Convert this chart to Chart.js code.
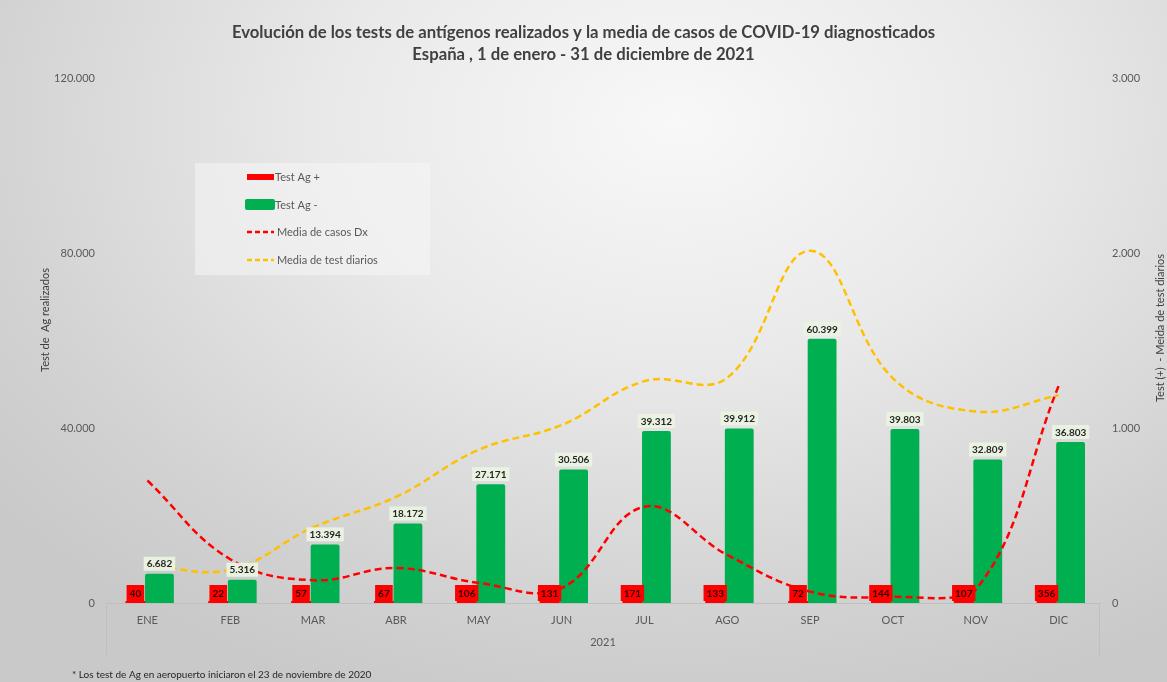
<!DOCTYPE html>
<html>
<head>
<meta charset="utf-8">
<script src="https://cdn.jsdelivr.net/npm/chart.js@4"></script>
<style>
  html, body { margin: 0; padding: 0; }
  #wrap {
    width: 1167px; height: 682px; position: relative;
    background: radial-gradient(ellipse 75% 90% at 58% 18%, #f8f8f8 0%, #e9e9e9 40%, #d2d2d2 80%, #c9c9c9 100%);
  }
</style>
</head>
<body>
<div id="wrap"><canvas id="agChart"></canvas></div>
<script>
const months = ['ENE', 'FEB', 'MAR', 'ABR', 'MAY', 'JUN', 'JUL', 'AGO', 'SEP', 'OCT', 'NOV', 'DIC'];
const yearLabel = ['2021'];
const testPos = [40, 22, 57, 67, 106, 131, 171, 133, 72, 144, 107, 356];
const testNeg = [6682, 5316, 13394, 18172, 27171, 30506, 39312, 39912, 60399, 39803, 32809, 36803];
const mediaCasos = [700, 250, 130, 200, 115, 85, 550, 275, 65, 35, 75, 1240];
const mediaTest = [215, 190, 432, 606, 876, 1017, 1268, 1287, 2013, 1284, 1094, 1187];

const fontFam = 'Lato, "Open Sans", sans-serif';
Chart.defaults.font.family = fontFam;
Chart.defaults.color = '#595959';

// 40000 -> 40.000
const fmt = v => String(v).replace(/\B(?=(\d{3})+(?!\d))/g, '.');

const extras = {
  id: 'extras',
  afterDatasetsDraw(chart) {
    const c = chart.ctx;
    const pos = chart.getDatasetMeta(2), neg = chart.getDatasetMeta(3);
    const base = chart.scales.y.getPixelForValue(0);
    c.save();
    c.font = 'bold 10px ' + fontFam;
    c.textAlign = 'center';
    c.textBaseline = 'middle';
    neg.data.forEach((bar, i) => {
      const t = fmt(testNeg[i]);
      const w = c.measureText(t).width + 6;
      const cy = bar.y - 10;
      c.fillStyle = 'rgba(234,243,225,0.95)';
      c.fillRect(bar.x - w / 2, cy - 7, w, 14);
      c.fillStyle = '#262626';
      c.fillText(t, bar.x, cy + 0.5);
    });
    pos.data.forEach((bar, i) => {
      const t = String(testPos[i]);
      const w = c.measureText(t).width + 6;
      const cy = base - 10;
      c.fillStyle = '#ff0000';
      c.fillRect(bar.x - w / 2, cy - 8, w, 16);
      c.fillStyle = '#2a0000';
      c.fillText(t, bar.x, cy + 0.5);
    });
    c.restore();
  },
  afterDraw(chart) {
    const c = chart.ctx;
    const a = chart.chartArea;
    c.save();
    // category axis bracket
    c.strokeStyle = '#bfbfbf';
    c.lineWidth = 1;
    c.beginPath();
    c.moveTo(a.left + 0.5, a.bottom); c.lineTo(a.left + 0.5, a.bottom + 52);
    c.moveTo(a.right - 0.5, a.bottom); c.lineTo(a.right - 0.5, a.bottom + 52);
    c.stroke();

    // axis titles
    c.fillStyle = '#404040';
    c.font = '11px ' + fontFam;
    c.textAlign = 'center';
    c.textBaseline = 'middle';
    c.save();
    c.translate(45, 320); c.rotate(-Math.PI / 2);
    c.fillText('Test de  Ag realizados', 0, 0);
    c.restore();
    c.save();
    c.translate(1160, 328); c.rotate(-Math.PI / 2);
    c.fillText('Test (+)  - Meida de test diarios', 0, 0);
    c.restore();

    // legend
    c.fillStyle = 'rgba(245,245,245,0.55)';
    c.fillRect(195, 163, 235, 112);
    const ds = chart.data.datasets;
    c.fillStyle = '#ff0000';
    c.fillRect(247, 174, 27, 6);
    c.fillStyle = '#00b050';
    c.beginPath(); c.roundRect(245, 199, 30, 11, 2); c.fill();
    c.lineWidth = 2.5;
    c.setLineDash([5, 3]);
    c.strokeStyle = '#ff0000';
    c.beginPath(); c.moveTo(247, 232); c.lineTo(274, 232); c.stroke();
    c.strokeStyle = '#ffc000';
    c.beginPath(); c.moveTo(247, 260); c.lineTo(274, 260); c.stroke();
    c.setLineDash([]);
    c.fillStyle = '#595959';
    c.font = '11px ' + fontFam;
    c.textAlign = 'left';
    c.fillText(ds[2].label, 275, 177);
    c.fillText(ds[3].label, 275, 205);
    c.fillText(ds[0].label, 277, 232);
    c.fillText(ds[1].label, 277, 260);

    // footnote
    c.fillStyle = '#262626';
    c.font = '10px ' + fontFam;
    c.fillText('* Los test de Ag en aeropuerto iniciaron el 23 de noviembre de 2020', 72, 675);
    c.restore();
  }
};

new Chart(document.getElementById('agChart'), {
  type: 'bar',
  data: {
    labels: months,
    datasets: [
      {
        type: 'line', label: 'Media de casos Dx', data: mediaCasos, yAxisID: 'y1',
        borderColor: '#ff0000', borderWidth: 2.5, borderDash: [7, 4], tension: 0.4,
        pointRadius: 0, fill: false, order: 0
      },
      {
        type: 'line', label: 'Media de test diarios', data: mediaTest, yAxisID: 'y1',
        borderColor: '#ffc000', borderWidth: 2.5, borderDash: [7, 4], tension: 0.4,
        pointRadius: 0, fill: false, order: 0
      },
      {
        label: 'Test Ag +', data: testPos, yAxisID: 'y', backgroundColor: '#ff0000',
        minBarLength: 2, barPercentage: 0.83, order: 1
      },
      {
        label: 'Test Ag -', data: testNeg, yAxisID: 'y', backgroundColor: '#00b050',
        barPercentage: 1.2, borderRadius: { topLeft: 2, topRight: 2 }, order: 1
      }
    ]
  },
  options: {
    responsive: true,
    maintainAspectRatio: false,
    animation: false,
    datasets: { bar: { categoryPercentage: 0.58 } },
    layout: { padding: { left: 0, right: 0, top: 0, bottom: 27 } },
    plugins: {
      legend: { display: false },
      tooltip: { enabled: false },
      title: {
        display: true,
        text: ['Evolución de los tests de antígenos realizados y la media de casos de COVID-19 diagnosticados',
               'España , 1 de enero - 31 de diciembre de 2021'],
        color: '#404040',
        font: { size: 16.7, weight: 'bold', lineHeight: 1.32 },
        padding: { top: 22, bottom: 12 }
      }
    },
    scales: {
      x: {
        weight: 0,
        grid: { display: false, drawTicks: false },
        border: { display: true, color: '#bfbfbf' },
        ticks: { color: '#595959', font: { size: 11 }, padding: 11 },
        afterFit: s => { s.height = 30; }
      },
      x2: {
        type: 'category', labels: yearLabel, position: 'bottom', weight: 1, offset: true,
        grid: { display: false, drawTicks: false }, border: { display: false },
        ticks: { color: '#595959', font: { size: 11 }, padding: 3 },
        afterFit: s => { s.height = 22; }
      },
      y: {
        min: 0, max: 120000,
        grid: { display: false, drawTicks: false }, border: { display: false },
        ticks: { stepSize: 40000, callback: v => fmt(v), padding: 11, font: { size: 11 } },
        afterFit: s => { s.width = 106; }
      },
      y1: {
        position: 'right', min: 0, max: 3000,
        grid: { display: false, drawTicks: false }, border: { display: false },
        ticks: { stepSize: 1000, callback: v => fmt(v), padding: 12, font: { size: 11 } },
        afterFit: s => { s.width = 67; }
      }
    }
  },
  plugins: [extras]
});
</script>
</body>
</html>
